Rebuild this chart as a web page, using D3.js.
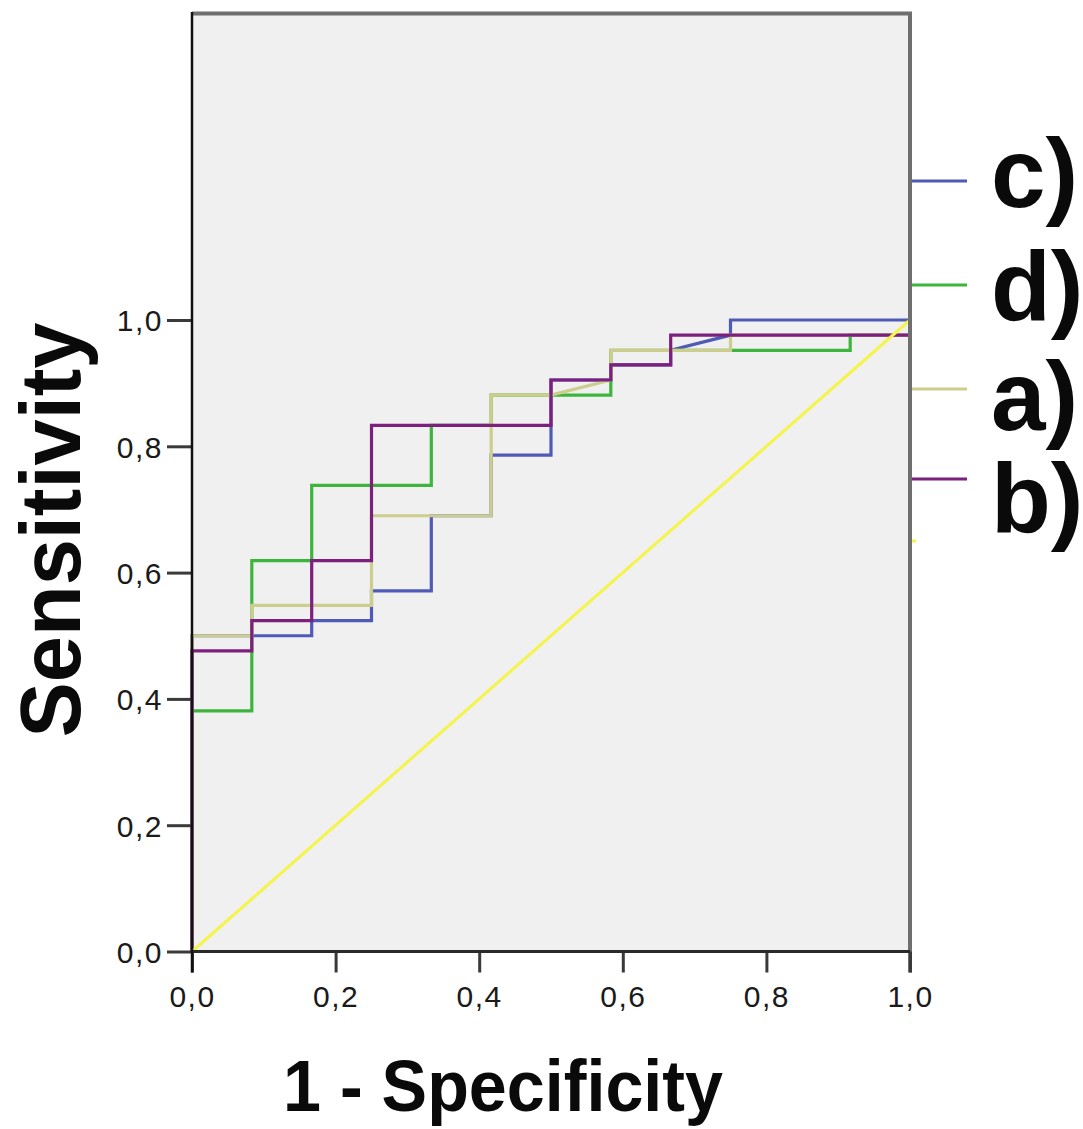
<!DOCTYPE html>
<html>
<head>
<meta charset="utf-8">
<script src="https://cdn.jsdelivr.net/npm/d3@7"></script>
<style>
  html, body { margin: 0; padding: 0; background: #ffffff; }
  svg { display: block; }
  text { font-family: "Liberation Sans", Arial, sans-serif; }
</style>
</head>
<body>
<svg id="chart" width="1083" height="1129"></svg>
<script>
// ROC curve vertices: 1 - specificity (fpr) and sensitivity (tpr) for each test
const fprC = [0, 0, 0.1667, 0.1667, 0.25, 0.25, 0.3333, 0.3333, 0.4167, 0.4167, 0.5, 0.5, 0.5833, 0.5833, 0.6667, 0.6667, 0.75, 0.75, 1];
const tprC = [0, 0.5, 0.5, 0.524, 0.524, 0.571, 0.571, 0.69, 0.69, 0.786, 0.786, 0.905, 0.905, 0.929, 0.929, 0.952, 0.976, 1, 1];

const fprD = [0, 0, 0.0833, 0.0833, 0.1667, 0.1667, 0.3333, 0.3333, 0.4167, 0.4167, 0.5833, 0.5833, 0.9167, 0.9167, 1, 1];
const tprD = [0, 0.381, 0.381, 0.619, 0.619, 0.738, 0.738, 0.833, 0.833, 0.881, 0.881, 0.952, 0.952, 0.976, 0.976, 1];

const fprA = [0, 0, 0.0833, 0.0833, 0.25, 0.25, 0.4167, 0.4167, 0.5, 0.5833, 0.5833, 0.75, 0.75, 1, 1];
const tprA = [0, 0.5, 0.5, 0.548, 0.548, 0.69, 0.69, 0.881, 0.881, 0.905, 0.952, 0.952, 0.976, 0.976, 1];

const fprB = [0, 0, 0.0833, 0.0833, 0.1667, 0.1667, 0.25, 0.25, 0.5, 0.5, 0.5833, 0.5833, 0.6667, 0.6667, 1, 1];
const tprB = [0, 0.476, 0.476, 0.524, 0.524, 0.619, 0.619, 0.833, 0.833, 0.905, 0.905, 0.929, 0.929, 0.976, 0.976, 1];

// chance diagonal
const fprRef = [0, 1];
const tprRef = [0, 1];

const seriesNames = ["c)", "d)", "a)", "b)"];
const seriesColors = ["#4f5ab6", "#3db53d", "#cdcd8e", "#7d1f7d"];
const refColor = "#f4f44a";

const tickValues = [0, 0.2, 0.4, 0.6, 0.8, 1.0];
const xTitle = "1 - Specificity";
const yTitle = "Sensitivity";

// ---- layout ----
const svg = d3.select("#chart");
const plotLeft = 192, plotRight = 910, plotBottom = 951.5, plotTop = 12;

const x = d3.scaleLinear().domain([0, 1]).range([plotLeft, plotRight]);
const y = d3.scaleLinear().domain([0, 1]).range([plotBottom, 320]);

const fmt = v => d3.format(".1f")(v).replace(".", ",");

// plot background
svg.append("rect")
  .attr("x", plotLeft).attr("y", plotTop)
  .attr("width", plotRight - plotLeft).attr("height", plotBottom - plotTop)
  .attr("fill", "#f0f0f0");

// curves, drawn c, d, a, b, then the diagonal on top
const curves = [
  { fpr: fprC, tpr: tprC, color: seriesColors[0] },
  { fpr: fprD, tpr: tprD, color: seriesColors[1] },
  { fpr: fprA, tpr: tprA, color: seriesColors[2] },
  { fpr: fprB, tpr: tprB, color: seriesColors[3] }
];

const line = d3.line().x(d => x(d[0])).y(d => y(d[1]));

const plot = svg.append("g");
curves.forEach(c => {
  plot.append("path")
    .datum(d3.zip(c.fpr, c.tpr))
    .attr("d", line)
    .attr("fill", "none")
    .attr("stroke", c.color)
    .attr("stroke-width", 3.2)
    .attr("stroke-linejoin", "miter");
});

plot.append("path")
  .datum(d3.zip(fprRef, tprRef))
  .attr("d", line)
  .attr("fill", "none")
  .attr("stroke", refColor)
  .attr("stroke-width", 3);

// frame: top and right edges
svg.append("line")
  .attr("x1", plotLeft).attr("x2", plotRight + 2)
  .attr("y1", plotTop + 1.5).attr("y2", plotTop + 1.5)
  .attr("stroke", "#6f6f6f").attr("stroke-width", 4);
svg.append("line")
  .attr("x1", plotRight).attr("x2", plotRight)
  .attr("y1", plotTop).attr("y2", plotBottom + 21)
  .attr("stroke", "#6f6f6f").attr("stroke-width", 4);

// axes
const yAxis = d3.axisLeft(y).tickValues(tickValues).tickFormat(fmt)
  .tickSize(25).tickSizeOuter(0).tickPadding(4);
const xAxis = d3.axisBottom(x).tickValues(tickValues).tickFormat(fmt)
  .tickSize(21).tickSizeOuter(0).tickPadding(13);

const gy = svg.append("g").attr("transform", `translate(${plotLeft},0)`).call(yAxis);
const gx = svg.append("g").attr("transform", `translate(0,${plotBottom})`).call(xAxis);

[gx, gy].forEach(g => {
  g.select(".domain").remove();
  g.selectAll(".tick line").attr("stroke", "#3a3a3a").attr("stroke-width", 3);
  g.selectAll(".tick text")
    .attr("fill", "#1a1a1a")
    .style("font-size", "30px")
    .style("letter-spacing", "1.5px")
    .style("font-family", "'Liberation Sans', Arial, sans-serif");
});
gy.selectAll(".tick text").attr("dy", "0.36em");

// axis lines
svg.append("line")
  .attr("x1", plotLeft).attr("x2", plotRight)
  .attr("y1", plotBottom).attr("y2", plotBottom)
  .attr("stroke", "#2a2a2a").attr("stroke-width", 3);
svg.append("line")
  .attr("x1", plotLeft).attr("x2", plotLeft)
  .attr("y1", plotTop).attr("y2", plotBottom + 21)
  .attr("stroke", "#111111").attr("stroke-width", 2.5);

// axis titles
svg.append("text")
  .attr("x", 503).attr("y", 1111)
  .attr("text-anchor", "middle")
  .attr("textLength", 440).attr("lengthAdjust", "spacingAndGlyphs")
  .style("font-size", "72px").style("font-weight", "bold")
  .attr("fill", "#0a0a0a")
  .text(xTitle);

svg.append("text")
  .attr("transform", "translate(80,530) rotate(-90)")
  .attr("text-anchor", "middle")
  .attr("textLength", 415).attr("lengthAdjust", "spacingAndGlyphs")
  .style("font-size", "86px").style("font-weight", "bold")
  .attr("fill", "#0a0a0a")
  .text(yTitle);

// legend
const legendLineY = [181, 285, 389, 479];
const legendTextY = [207, 320, 430, 532];
const legend = svg.append("g");
seriesNames.forEach((name, i) => {
  legend.append("line")
    .attr("x1", 912).attr("x2", 967)
    .attr("y1", legendLineY[i]).attr("y2", legendLineY[i])
    .attr("stroke", seriesColors[i]).attr("stroke-width", 3);
  legend.append("text")
    .attr("x", 991).attr("y", legendTextY[i])
    .style("font-size", "98px").style("font-weight", "bold")
    .attr("fill", "#0a0a0a")
    .text(name);
});
// reference-line legend key (clipped by the page edge)
legend.append("line")
  .attr("x1", 912).attr("x2", 916)
  .attr("y1", 541).attr("y2", 541)
  .attr("stroke", refColor).attr("stroke-width", 3);
</script>
</body>
</html>
